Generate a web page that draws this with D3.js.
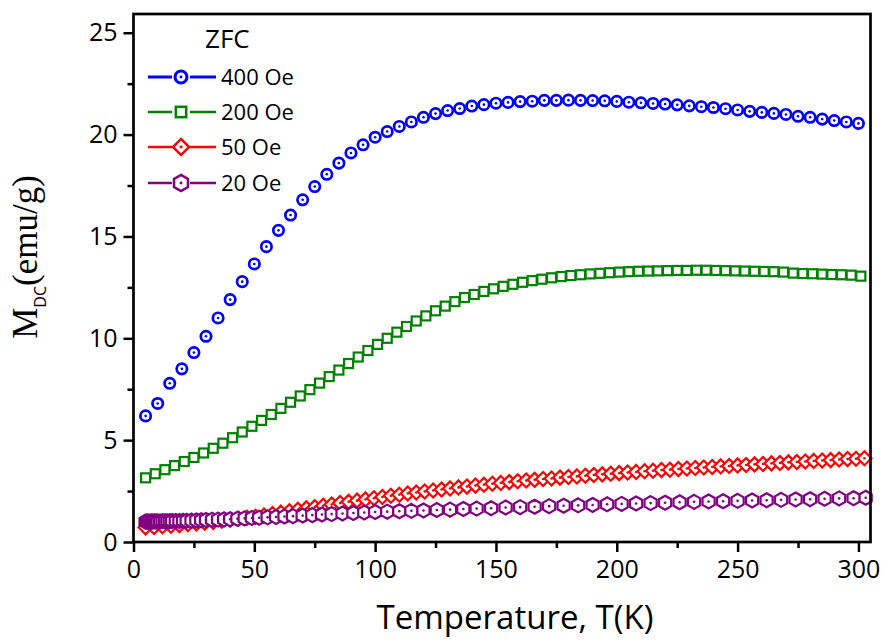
<!DOCTYPE html>
<html>
<head>
<meta charset="utf-8">
<script src="https://cdn.jsdelivr.net/npm/d3@7"></script>
<style>
body { margin: 0; background: #fff; }
text { font-family: 'Open Sans', sans-serif; fill: #000; }
</style>
</head>
<body>
<div id="main"></div>
<script>
// ZFC magnetisation
var temp400 = [5, 10, 15, 20, 25, 30, 35, 40, 45, 50, 55, 60, 65, 70, 75, 80, 85, 90, 95, 100,
  105, 110, 115, 120, 125, 130, 135, 140, 145, 150, 155, 160, 165, 170, 175, 180, 185, 190, 195, 200,
  205, 210, 215, 220, 225, 230, 235, 240, 245, 250, 255, 260, 265, 270, 275, 280, 285, 290, 295, 300];
var mag400 = [6.19, 6.8, 7.79, 8.5, 9.3, 10.1, 11.0, 11.9, 12.78, 13.65, 14.5, 15.3, 16.05, 16.8, 17.45, 18.05, 18.6, 19.1, 19.5, 19.87,
  20.15, 20.4, 20.62, 20.85, 21.03, 21.18, 21.28, 21.4, 21.47, 21.54, 21.58, 21.62, 21.64, 21.68, 21.68, 21.69, 21.68, 21.67, 21.66, 21.63,
  21.59, 21.56, 21.53, 21.5, 21.46, 21.41, 21.37, 21.33, 21.27, 21.21, 21.14, 21.09, 21.04, 20.99, 20.9, 20.85, 20.76, 20.69, 20.62, 20.55];

var temp200 = [5, 9, 13, 17, 21, 25, 29, 33, 37, 41, 45, 49, 53, 57, 61, 65, 69, 73, 77, 81,
  85, 89, 93, 97, 101, 105, 109, 113, 117, 121, 125, 129, 133, 137, 141, 145, 149, 153, 157, 161,
  165, 169, 173, 177, 181, 185, 189, 193, 197, 201, 205, 209, 213, 217, 221, 225, 229, 233, 237, 241,
  245, 249, 253, 257, 261, 265, 269, 273, 277, 281, 285, 289, 293, 297, 301];
var mag200 = [3.15, 3.35, 3.55, 3.75, 3.95, 4.15, 4.37, 4.6, 4.85, 5.12, 5.4, 5.68, 5.97, 6.26, 6.56, 6.86, 7.17, 7.48, 7.8, 8.12,
  8.44, 8.76, 9.08, 9.4, 9.7, 10.0, 10.3, 10.58, 10.85, 11.1, 11.35, 11.58, 11.8, 12.0, 12.15, 12.3, 12.43, 12.55, 12.65, 12.75,
  12.83, 12.9, 12.97, 13.03, 13.08, 13.12, 13.16, 13.19, 13.22, 13.25, 13.27, 13.29, 13.3, 13.31, 13.32, 13.33, 13.33, 13.34, 13.34, 13.33,
  13.32, 13.31, 13.3, 13.29, 13.28, 13.27, 13.25, 13.2, 13.18, 13.17, 13.15, 13.13, 13.12, 13.1, 13.05];

var temp50 = [5, 8.5, 12, 15.5, 19, 22.5, 26, 29.5, 33, 36.5, 40, 43.5, 47, 50.5, 54, 57.5, 61, 64.5, 68, 71.5,
  75, 78.5, 82, 85.5, 89, 92.5, 96, 99.5, 103, 106.5, 110, 113.5, 117, 120.5, 124, 127.5, 131, 134.5, 138, 141.5,
  145, 148.5, 152, 155.5, 159, 162.5, 166, 169.5, 173, 176.5, 180, 183.5, 187, 190.5, 194, 197.5, 201, 204.5, 208, 211.5,
  215, 218.5, 222, 225.5, 229, 232.5, 236, 239.5, 243, 246.5, 250, 253.5, 257, 260.5, 264, 267.5, 271, 274.5, 278, 281.5,
  285, 288.5, 292, 295.5, 299, 302.5];
var mag50 = [0.72, 0.74, 0.77, 0.8, 0.83, 0.87, 0.91, 0.95, 0.99, 1.04, 1.09, 1.14, 1.19, 1.24, 1.3, 1.37, 1.44, 1.51, 1.58, 1.65,
  1.71, 1.78, 1.84, 1.91, 1.97, 2.03, 2.09, 2.15, 2.21, 2.27, 2.32, 2.38, 2.43, 2.48, 2.53, 2.58, 2.63, 2.68, 2.72, 2.77,
  2.81, 2.86, 2.9, 2.94, 2.98, 3.02, 3.05, 3.09, 3.12, 3.16, 3.19, 3.22, 3.25, 3.29, 3.32, 3.35, 3.38, 3.41, 3.44, 3.47,
  3.5, 3.53, 3.55, 3.58, 3.61, 3.63, 3.66, 3.68, 3.71, 3.73, 3.76, 3.78, 3.81, 3.83, 3.86, 3.88, 3.91, 3.93, 3.95, 3.98,
  4.0, 4.02, 4.05, 4.07, 4.09, 4.11];

var temp20 = [5, 5.5, 6, 6.5, 7, 7.5, 8, 8.5, 9, 9.5, 10, 11, 12, 13, 14, 15, 16, 17.5, 19, 20.5,
  22, 24, 26, 28, 30, 32.5, 35, 37.5, 40, 43, 46, 49, 52, 55.5, 59, 62.5, 66, 70, 74, 78,
  82, 86.5, 91, 95.5, 100, 105, 110, 115, 120, 125.5, 131, 136.5, 142, 148, 154, 160, 166, 172, 178, 184,
  190, 196, 202, 208, 214, 220, 226, 232, 238, 244, 250, 256, 262, 268, 274, 280, 286, 292, 298, 303];
var mag20 = [1.0, 1.0, 1.0, 1.0, 1.0, 1.01, 1.01, 1.01, 1.01, 1.01, 1.01, 1.01, 1.02, 1.02, 1.02, 1.02, 1.03, 1.03, 1.03, 1.04,
  1.04, 1.05, 1.06, 1.07, 1.08, 1.09, 1.1, 1.11, 1.12, 1.14, 1.16, 1.18, 1.19, 1.21, 1.23, 1.25, 1.27, 1.3, 1.32, 1.35,
  1.37, 1.4, 1.42, 1.45, 1.47, 1.49, 1.51, 1.53, 1.55, 1.57, 1.59, 1.62, 1.64, 1.66, 1.69, 1.71, 1.73, 1.76, 1.78, 1.8,
  1.82, 1.85, 1.87, 1.89, 1.91, 1.93, 1.95, 1.97, 1.99, 2.0, 2.02, 2.04, 2.05, 2.07, 2.09, 2.1, 2.12, 2.14, 2.15, 2.17];

var xTicks = [0, 50, 100, 150, 200, 250, 300];
var xMinor = [25, 75, 125, 175, 225, 275];
var yTicks = [0, 5, 10, 15, 20, 25];
var yMinor = [2.5, 7.5, 12.5, 17.5, 22.5];

var series = [
  {name: '400 Oe', t: temp400, m: mag400, color: '#0000ff', shape: 'circle', dot: true, lw: 3},
  {name: '200 Oe', t: temp200, m: mag200, color: '#008000', shape: 'square', dot: false, lw: 2.5},
  {name: '50 Oe', t: temp50, m: mag50, color: '#ff0000', shape: 'diamond', dot: true, lw: 2.5},
  {name: '20 Oe', t: temp20, m: mag20, color: '#800080', shape: 'hexagon', dot: true, lw: 2.5}
];

var width = 883,
    height = 640;

var x = d3.scaleLinear().domain([0, 305]).range([133.5, 870.5]);
var y = d3.scaleLinear().domain([0, 25.92]).range([542, 14]);

var svg = d3.select("#main").append("svg")
    .attr("width", width)
    .attr("height", height);

// symbols only on the curves, the line shows up in the legend
var plot = svg.append("g");

series.forEach(function(s) {
  var g = plot.append("g");
  s.t.forEach(function(t, i) {
    drawMarker(g, x(t), y(s.m[i]), s, 1);
  });
});

function drawMarker(g, cx, cy, s, k) {
  var m = g.append("g").attr("transform", "translate(" + cx + "," + cy + ") scale(" + k + ")");
  var sw = s.shape == 'circle' ? 2.7 : 2.2;
  if (s.shape == 'circle') {
    m.append("circle").attr("r", 5.2);
  } else if (s.shape == 'square') {
    m.append("rect").attr("x", -4.5).attr("y", -4.5).attr("width", 9).attr("height", 9);
  } else if (s.shape == 'diamond') {
    m.append("path").attr("d", "M0,-7L7,0L0,7L-7,0Z");
  } else {
    var r = 7, c = r * Math.cos(Math.PI / 6);
    m.append("path").attr("d", "M0," + (-r) + "L" + c + "," + (-r / 2) + "L" + c + "," + (r / 2) +
      "L0," + r + "L" + (-c) + "," + (r / 2) + "L" + (-c) + "," + (-r / 2) + "Z");
  }
  m.selectAll("circle, rect, path")
    .attr("fill", "#fff")
    .attr("stroke", s.color)
    .attr("stroke-width", sw);
  if (s.dot) {
    m.append("circle").attr("r", 1.3).attr("fill", s.color);
  }
}

// frame
svg.append("rect")
  .attr("x", 133.5).attr("y", 14)
  .attr("width", 870.5 - 133.5).attr("height", 542 - 14)
  .attr("fill", "none")
  .attr("stroke", "#000")
  .attr("stroke-width", 2.7);

svg.append("g")
  .attr("transform", "translate(0,542)")
  .call(d3.axisBottom(x).tickValues(xTicks).tickSize(10).tickPadding(8));
svg.append("g")
  .attr("transform", "translate(0,542)")
  .call(d3.axisBottom(x).tickValues(xMinor).tickSize(6).tickFormat(""));

svg.append("g")
  .attr("transform", "translate(133.5,0)")
  .call(d3.axisLeft(y).tickValues(yTicks).tickSize(10).tickPadding(6));
svg.append("g")
  .attr("transform", "translate(133.5,0)")
  .call(d3.axisLeft(y).tickValues(yMinor).tickSize(6).tickFormat(""));

svg.selectAll(".domain").remove();
svg.selectAll(".tick line").attr("stroke", "#000").attr("stroke-width", 2.5);
svg.selectAll(".tick text")
  .style("font-family", "'Open Sans', sans-serif")
  .style("font-size", "25px")
  .attr("fill", "#000");

// axis titles
svg.append("text")
  .attr("x", 515)
  .attr("y", 629)
  .attr("text-anchor", "middle")
  .style("font-size", "33px")
  .text("Temperature, T(K)");

var yTitle = svg.append("text")
  .attr("transform", "translate(37,257) rotate(-90)")
  .attr("text-anchor", "middle");
yTitle.append("tspan")
  .style("font-family", "'Liberation Serif', 'Times New Roman', serif")
  .style("font-size", "35px")
  .text("M");
yTitle.append("tspan")
  .attr("dy", 9)
  .style("font-size", "16px")
  .text("DC");
yTitle.append("tspan")
  .attr("dy", -9)
  .style("font-family", "'Liberation Serif', 'Times New Roman', serif")
  .style("font-size", "35px")
  .text("(emu/g)");

// legend
var legend = svg.append("g");
legend.append("text")
  .attr("x", 205).attr("y", 48)
  .style("font-size", "26px")
  .text("ZFC");

var legendY = [77, 112, 147, 183];
series.forEach(function(s, i) {
  var ly = legendY[i];
  legend.append("line").attr("x1", 148).attr("x2", 172).attr("y1", ly).attr("y2", ly)
    .attr("stroke", s.color).attr("stroke-width", s.lw);
  legend.append("line").attr("x1", 190).attr("x2", 216).attr("y1", ly).attr("y2", ly)
    .attr("stroke", s.color).attr("stroke-width", s.lw);
  drawMarker(legend, 181, ly, s, 1.15);
  legend.append("text")
    .attr("x", 221).attr("y", ly)
    .attr("dy", "0.35em")
    .style("font-size", "22px")
    .text(s.name);
});
</script>
</body>
</html>
